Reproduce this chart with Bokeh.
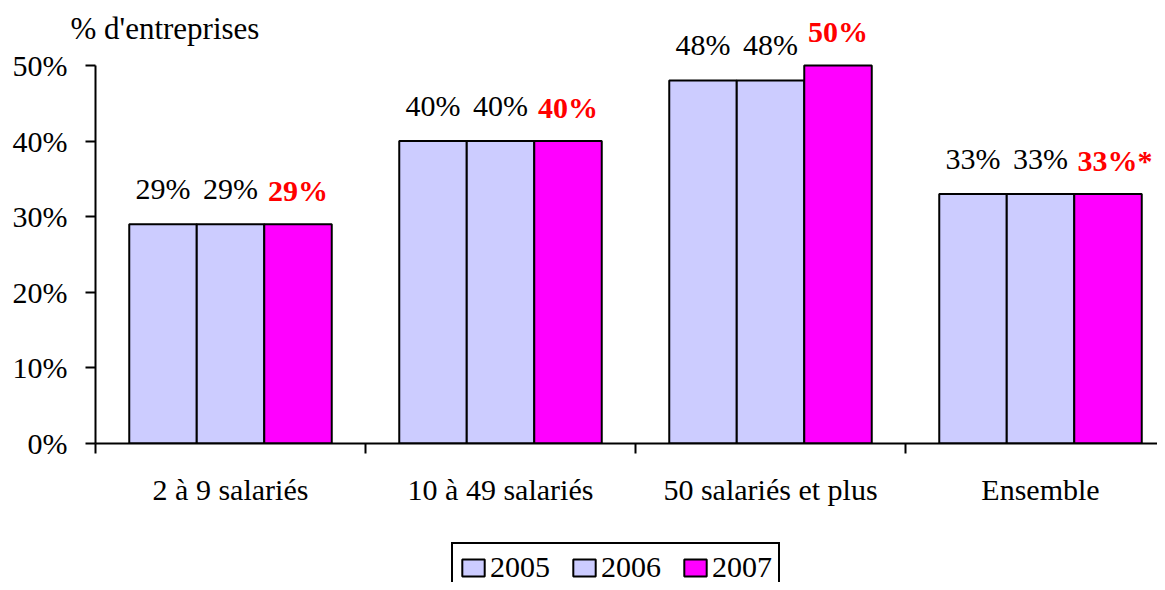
from bokeh.plotting import figure
from bokeh.layouts import column
from bokeh.models import Range1d, FixedTicker, Legend, LegendItem, ColumnDataSource, Title
from bokeh.core.properties import value
from bokeh.embed import file_html
from bokeh.resources import INLINE

categories = ["2 à 9 salariés", "10 à 49 salariés", "50 salariés et plus", "Ensemble"]
years = ["2005", "2006", "2007"]
v2005 = [29, 40, 48, 33]
v2006 = [29, 40, 48, 33]
v2007 = [29, 40, 50, 33]
labels_2005 = ["29%", "40%", "48%", "33%"]
labels_2006 = ["29%", "40%", "48%", "33%"]
labels_2007 = ["29%", "40%", "50%", "33%*"]
y_ticks = [0, 10, 20, 30, 40, 50]
y_tick_labels = ["0%", "10%", "20%", "30%", "40%", "50%"]
y_title = "% d'entreprises"

FONT = "Liberation Serif"
FS = "30px"
LAV = "#CCCCFF"
MAG = "#FF00FF"

centers = [i + 0.5 for i in range(len(categories))]
offsets = [-0.25, 0.0, 0.25]
series = [v2005, v2006, v2007]
series_labels = [labels_2005, labels_2006, labels_2007]
colors = [LAV, LAV, MAG]

W, H_MAIN, H_LEG = 1157, 535, 47
FRAME_L, FRAME_T, FRAME_B = 95, 10, 443
px_per_unit = (443 - 65) / 50.0

p = figure(width=W, height=H_MAIN, output_backend="svg", toolbar_location=None,
           x_range=Range1d(0, (W - FRAME_L) / 270.0),
           y_range=Range1d(0, (FRAME_B - FRAME_T) / px_per_unit),
           min_border_left=FRAME_L, min_border_right=0, min_border_top=FRAME_T,
           min_border_bottom=H_MAIN - FRAME_B)
p.outline_line_color = None
p.xgrid.visible = False
p.ygrid.visible = False
p.background_fill_color = "white"
p.border_fill_color = "white"

p.title = Title(text=y_title, align="left", offset=-25, standoff=-70,
                text_font=FONT, text_font_size="31px", text_font_style="normal",
                text_color="black")

for j, (vals, labs, col) in enumerate(zip(series, series_labels, colors)):
    # small shift so that the "%" part stays centred when a footnote star follows
    xoff = [7 if lab.endswith("*") else 0 for lab in labs]
    src = ColumnDataSource(dict(x=[c + offsets[j] for c in centers], top=vals, text=labs, xoff=xoff))
    p.vbar(x="x", top="top", width=0.25, bottom=0, source=src,
           fill_color=col, line_color="black", line_width=2)
    if j == 2:
        p.text(x="x", y="top", text="text", source=src, y_offset=-34, x_offset="xoff",
               text_align="center", text_baseline="alphabetic",
               text_font=value(FONT), text_font_size=FS, text_font_style="bold",
               text_color="#FF0000")
    else:
        p.text(x="x", y="top", text="text", source=src, y_offset=-36,
               text_align="center", text_baseline="alphabetic",
               text_font=value(FONT), text_font_size=FS, text_color="black")

xa = p.xaxis[0]
xa.ticker = FixedTicker(ticks=centers, minor_ticks=list(range(len(categories) + 1)))
xa.major_label_overrides = {c: lab for c, lab in zip(centers, categories)}
xa.major_tick_out = 0
xa.major_tick_in = 0
xa.minor_tick_out = 10
xa.minor_tick_in = 0
xa.minor_tick_line_width = 2
xa.minor_tick_line_color = "black"
xa.axis_line_width = 2
xa.axis_line_color = "black"
xa.major_label_standoff = 19
xa.major_label_text_font = FONT
xa.major_label_text_font_size = FS
xa.major_label_text_color = "black"

ya = p.yaxis[0]
ya.ticker = FixedTicker(ticks=y_ticks, minor_ticks=[])
ya.major_label_overrides = {t: lab for t, lab in zip(y_ticks, y_tick_labels)}
ya.bounds = (0, 50)
ya.major_tick_out = 10
ya.major_tick_in = 0
ya.major_tick_line_width = 2
ya.major_tick_line_color = "black"
ya.axis_line_width = 2
ya.axis_line_color = "black"
ya.major_label_standoff = 18
ya.major_label_text_font = FONT
ya.major_label_text_font_size = FS
ya.major_label_text_color = "black"

# legend strip below the chart (its frame aligns with the main chart's frame)
p2 = figure(width=W, height=H_LEG, output_backend="svg", toolbar_location=None,
            x_range=Range1d(0, 1), y_range=Range1d(0, 1),
            x_axis_type=None, y_axis_type=None,
            min_border_left=0, min_border_right=0, min_border_top=0, min_border_bottom=0)
p2.outline_line_color = None
p2.xgrid.visible = False
p2.ygrid.visible = False
p2.background_fill_color = "white"
p2.border_fill_color = "white"
proxies = []
for col in colors:
    # legend swatches only: one undrawable (NaN) row so that the swatch is painted
    rsrc = ColumnDataSource(dict(x=[float("nan")], top=[float("nan")]))
    proxies.append(p2.vbar(x="x", top="top", width=0.25, source=rsrc,
                           fill_color=col, line_color="black", line_width=2))

legend = Legend(items=[LegendItem(label=y, renderers=[r]) for y, r in zip(years, proxies)],
                orientation="horizontal", location=(356, -10), margin=0, padding=6,
                spacing=20, label_standoff=3, glyph_width=28, glyph_height=21,
                label_text_font=FONT, label_text_font_size=FS, label_text_color="black",
                border_line_color="black", border_line_width=2, border_line_alpha=1.0,
                background_fill_color="white", background_fill_alpha=1.0)
p2.add_layout(legend, "center")

open("out.html", "w").write(file_html(column(p, p2, spacing=0), INLINE))
